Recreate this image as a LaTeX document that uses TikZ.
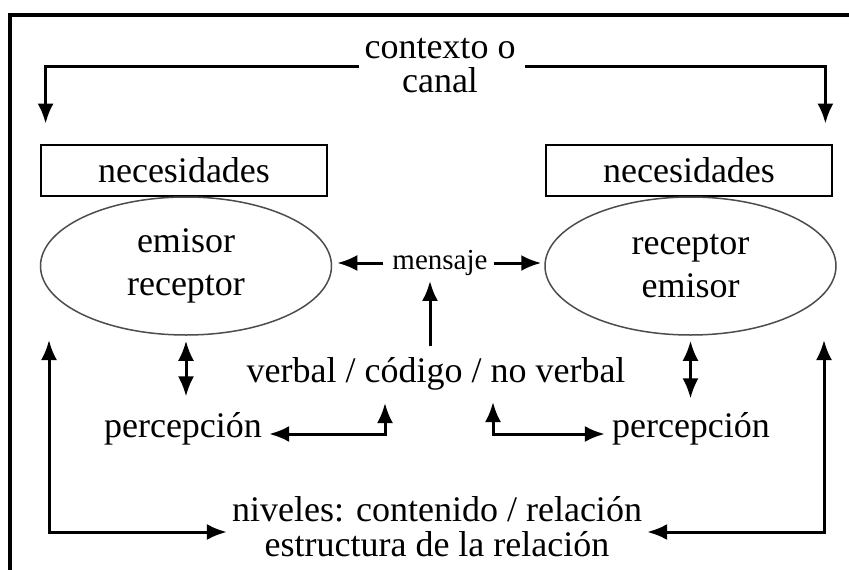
\documentclass[tikz,border=0pt]{standalone}
\usepackage{fontspec}
\setmainfont{Liberation Serif}
\usetikzlibrary{arrows.meta,shapes.geometric}
\tikzset{
  arr/.style={-{Latex[length=20pt,width=16pt]}, line width=3pt},
  darr/.style={{Latex[length=20pt,width=16pt]}-{Latex[length=20pt,width=16pt]}, line width=3pt},
  txt/.style={inner sep=0pt, font=\fontsize{36}{34}\selectfont},
  need/.style={draw, line width=2.8pt, minimum width=286pt, minimum height=51pt,
    inner sep=0pt, font=\fontsize{36}{34}\selectfont},
  role/.style={ellipse, draw=black!70, line width=1.5pt, align=center,
    minimum width=291pt, minimum height=138pt, inner sep=0pt,
    font=\fontsize{36}{43}\selectfont}
}
\begin{document}
\begin{tikzpicture}[x=1pt,y=-1pt]
\useasboundingbox (0,0) rectangle (849,570);
% marco
\draw[line width=3.2pt] (10,570) -- (10,15) -- (849,15);

\node[txt, align=center] (ctx) at (440,66) {contexto o\\canal};
\node[need] (needL) at (184,170.5) {necesidades};
\node[need] (needR) at (689,170.5) {necesidades};
\node[role] (emL) at (186,266) {emisor\\receptor};
\node[role] (emR) at (690.5,266) {receptor\\emisor};
\node[txt, font=\fontsize{29}{30}\selectfont] (msg) at (440,263) {mensaje};
\node[txt] (vb) at (436,374) {verbal / código / no verbal};
\node[txt] (pL) at (183,429) {percepción};
\node[txt] (pR) at (691,429) {percepción};
\node[txt, align=center, font=\fontsize{36}{35}\selectfont] (niv) at (437,527)
  {niveles: contenido / relación\\estructura de la relación};

\coordinate (vbL) at (385,403);
\coordinate (vbR) at (493,402);
\coordinate (upL) at (49,340);
\coordinate (upR) at (824,340);

% contexto
\draw[arr] ([xshift=-5pt]ctx.west) -| ([xshift=6pt,yshift=20pt]needL.north west);
\draw[arr] ([xshift=9pt]ctx.east) -| ([xshift=-8pt,yshift=20pt]needR.north east);

% mensaje
\draw[arr, shorten <=9pt, shorten >=5pt] (msg.west) -- (msg.west -| emL.east);
\draw[arr, shorten <=6pt, shorten >=3pt] (msg.east) -- (msg.east -| emR.west);
\draw[arr, shorten <=11pt, shorten >=5pt] ([xshift=-6pt]vb.north) -- ([xshift=-10pt]msg.south);

% percepcion
\draw[darr, shorten <=5pt, shorten >=16pt] (emL.south) -- (emL.south |- pL.north);
\draw[darr, shorten <=5pt, shorten >=14pt] (emR.south) -- (emR.south |- pR.north);
\draw[darr, shorten <=7pt] ([yshift=-5pt]pL.east) -| (vbL);
\draw[darr, shorten >=7pt] (vbR) |- ([yshift=-5pt]pR.west);

% niveles
\draw[darr, shorten >=5pt] (upL) |- ([yshift=-5pt]niv.west);
\draw[darr, shorten >=5pt] (upR) |- ([yshift=-5pt]niv.east);
\end{tikzpicture}
\end{document}
